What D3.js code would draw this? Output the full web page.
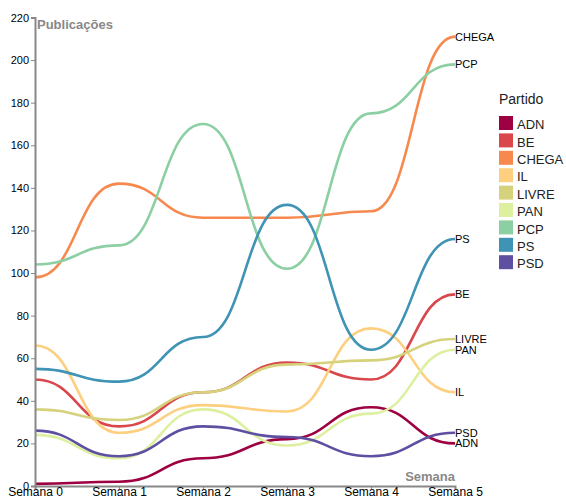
<!DOCTYPE html>
<html><head><meta charset="utf-8">
<script src="https://cdn.jsdelivr.net/npm/d3@7"></script>
<style>body{margin:0;background:#fff;font-family:Arial,"Liberation Sans",sans-serif}</style>
</head><body><svg id="c" width="566" height="499"></svg>
<script>
const weeks = ["Semana 0","Semana 1","Semana 2","Semana 3","Semana 4","Semana 5"];
const parties = ["ADN","BE","CHEGA","IL","LIVRE","PAN","PCP","PS","PSD"];
const ADN   = [1, 2, 13, 22, 37, 20];
const BE    = [50, 28, 44, 58, 50, 90];
const CHEGA = [98, 142, 126, 126, 129, 211];
const IL    = [66, 25, 38, 35, 74, 44];
const LIVRE = [36, 31, 44, 57, 59, 69];
const PAN   = [24, 13, 36, 19, 34, 64];
const PCP   = [104, 113, 170, 102, 175, 198];
const PS    = [55, 49, 70, 132, 64, 116];
const PSD   = [26, 14, 28, 23, 14, 25];
const colors = ["#9e0142","#d9464c","#f7894f","#fdcf7f","#d6d27c","#dcf0a0","#8ccfa3","#3f93b4","#5e4fa2"];
const yTicks = [0,20,40,60,80,100,120,140,160,180,200,220];

const series = [ADN,BE,CHEGA,IL,LIVRE,PAN,PCP,PS,PSD].map((v,i)=>({name:parties[i], values:v}));
const svg = d3.select("#c");
const x = d3.scalePoint().domain(weeks).range([35,455]);
const y = d3.scaleLinear().domain([0,220]).range([486,17.5]);
const color = d3.scaleOrdinal().domain(parties).range(colors);

const line = d3.line().x((d,i)=>x(weeks[i])).y(d=>y(d)).curve(d3.curveBumpX);

svg.append("g").selectAll("path").data(series).join("path")
  .attr("d", d=>line(d.values)).attr("fill","none")
  .attr("stroke", d=>color(d.name)).attr("stroke-width",2.6);

svg.append("g").selectAll("text").data(series).join("text")
  .attr("x", x(weeks[5])).attr("y", d=>y(d.values[5])).attr("dy","0.35em")
  .attr("font-size",11).attr("fill","#000").text(d=>d.name);

const yAxis = svg.append("g").attr("transform","translate(35,0)")
  .call(d3.axisLeft(y).tickValues(yTicks).tickSize(4).tickPadding(2));
const xAxis = svg.append("g").attr("transform","translate(0,486)")
  .call(d3.axisBottom(x).tickSize(3).tickPadding(0));
[yAxis,xAxis].forEach(a=>{
  a.select(".domain").attr("stroke","#888").attr("stroke-width",2);
  a.selectAll(".tick line").attr("stroke","#888");
  a.selectAll("text").attr("font-size",11).attr("font-family","Arial, 'Liberation Sans', sans-serif").attr("fill","#000");
});
xAxis.selectAll("text").attr("font-size",12).attr("dy","0.6em");

svg.append("text").attr("x",37).attr("y",29).attr("font-size",13).attr("font-weight","bold")
  .attr("fill","#888").text("Publicações");
svg.append("text").attr("x",455).attr("y",481).attr("text-anchor","end").attr("font-size",13)
  .attr("font-weight","bold").attr("fill","#888").text("Semana");

const lg = svg.append("g").attr("transform","translate(499,0)");
lg.append("text").attr("x",0).attr("y",104).attr("font-size",14).attr("fill","#222").text("Partido");
const items = lg.selectAll("g.it").data(parties).join("g").attr("class","it")
  .attr("transform",(d,i)=>`translate(0,${116+i*17.4})`);
items.append("rect").attr("width",14).attr("height",14).attr("fill",d=>color(d));
items.append("text").attr("x",18).attr("y",8).attr("dy","0.4em").attr("font-size",13).attr("fill","#222").text(d=>d);
</script></body></html>
